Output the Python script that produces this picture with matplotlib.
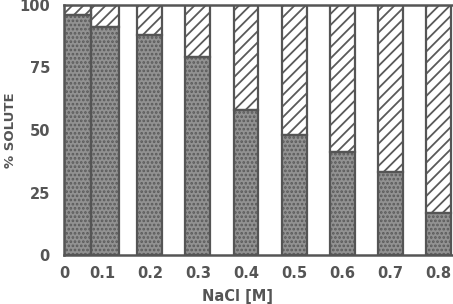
import numpy as np
import matplotlib.pyplot as plt

# NaCl concentration (M) and % solute in lower (stippled) part
conc = [0.0, 0.1, 0.2, 0.3, 0.4, 0.5, 0.6, 0.7, 0.8]
bound = [96, 91, 88, 79, 58, 48, 41, 33, 17]
free = [100 - b for b in bound]
xtick_labels = ["0", "0.1", "0.2", "0.3", "0.4", "0.5", "0.6", "0.7", "0.8"]
ytick_vals = [0, 25, 50, 75, 100]

grey = "#555555"
plt.rcParams["font.family"] = "DejaVu Sans"
plt.rcParams["font.weight"] = "bold"
plt.rcParams["hatch.linewidth"] = 1.3

fig = plt.figure(figsize=(4.53, 3.04), dpi=100)
ax = fig.add_axes([0.141, 0.161, 0.859, 0.823])

# first two bars sit side by side in the original figure
pos = list(conc)
pos[0] = 0.049
pos[1] = 0.106
w = [0.056, 0.058] + [0.052] * 7

# stippled part
ax.bar(pos, bound, width=w, color="#929292", hatch="....", edgecolor="#5a5a5a", linewidth=0)
# hatched part
ax.bar(pos, free, bottom=bound, width=w, color="white", hatch="///", edgecolor="#5a5a5a", linewidth=0)
# outlines
ax.bar(pos, bound, width=w, fill=False, edgecolor=grey, linewidth=1.6)
ax.bar(pos, free, bottom=bound, width=w, fill=False, edgecolor=grey, linewidth=1.6)

ax.set_xlim(0.0208, 0.831)
ax.set_ylim(0, 100)

xt = list(conc)
xt[0] = 0.021
ax.set_xticks(xt)
ax.set_xticklabels(xtick_labels)
ax.set_yticks(ytick_vals)
ax.tick_params(length=0, labelsize=10.5, labelcolor=grey)
ax.tick_params(axis="x", pad=8)
ax.tick_params(axis="y", pad=10)

for s in ["left", "bottom", "top"]:
    ax.spines[s].set_color(grey)
    ax.spines[s].set_linewidth(1.8)
ax.spines["right"].set_visible(False)

fig.text(11 / 453, 1 - 130 / 304, "% SOLUTE", rotation=90, fontsize=9.5,
         color=grey, fontweight="bold", ha="center", va="center")
fig.text(238 / 453, 1 - 296 / 304, "NaCl [M]", fontsize=10.5,
         color=grey, fontweight="bold", ha="center", va="center")

fig.savefig("out.png", dpi=100)
